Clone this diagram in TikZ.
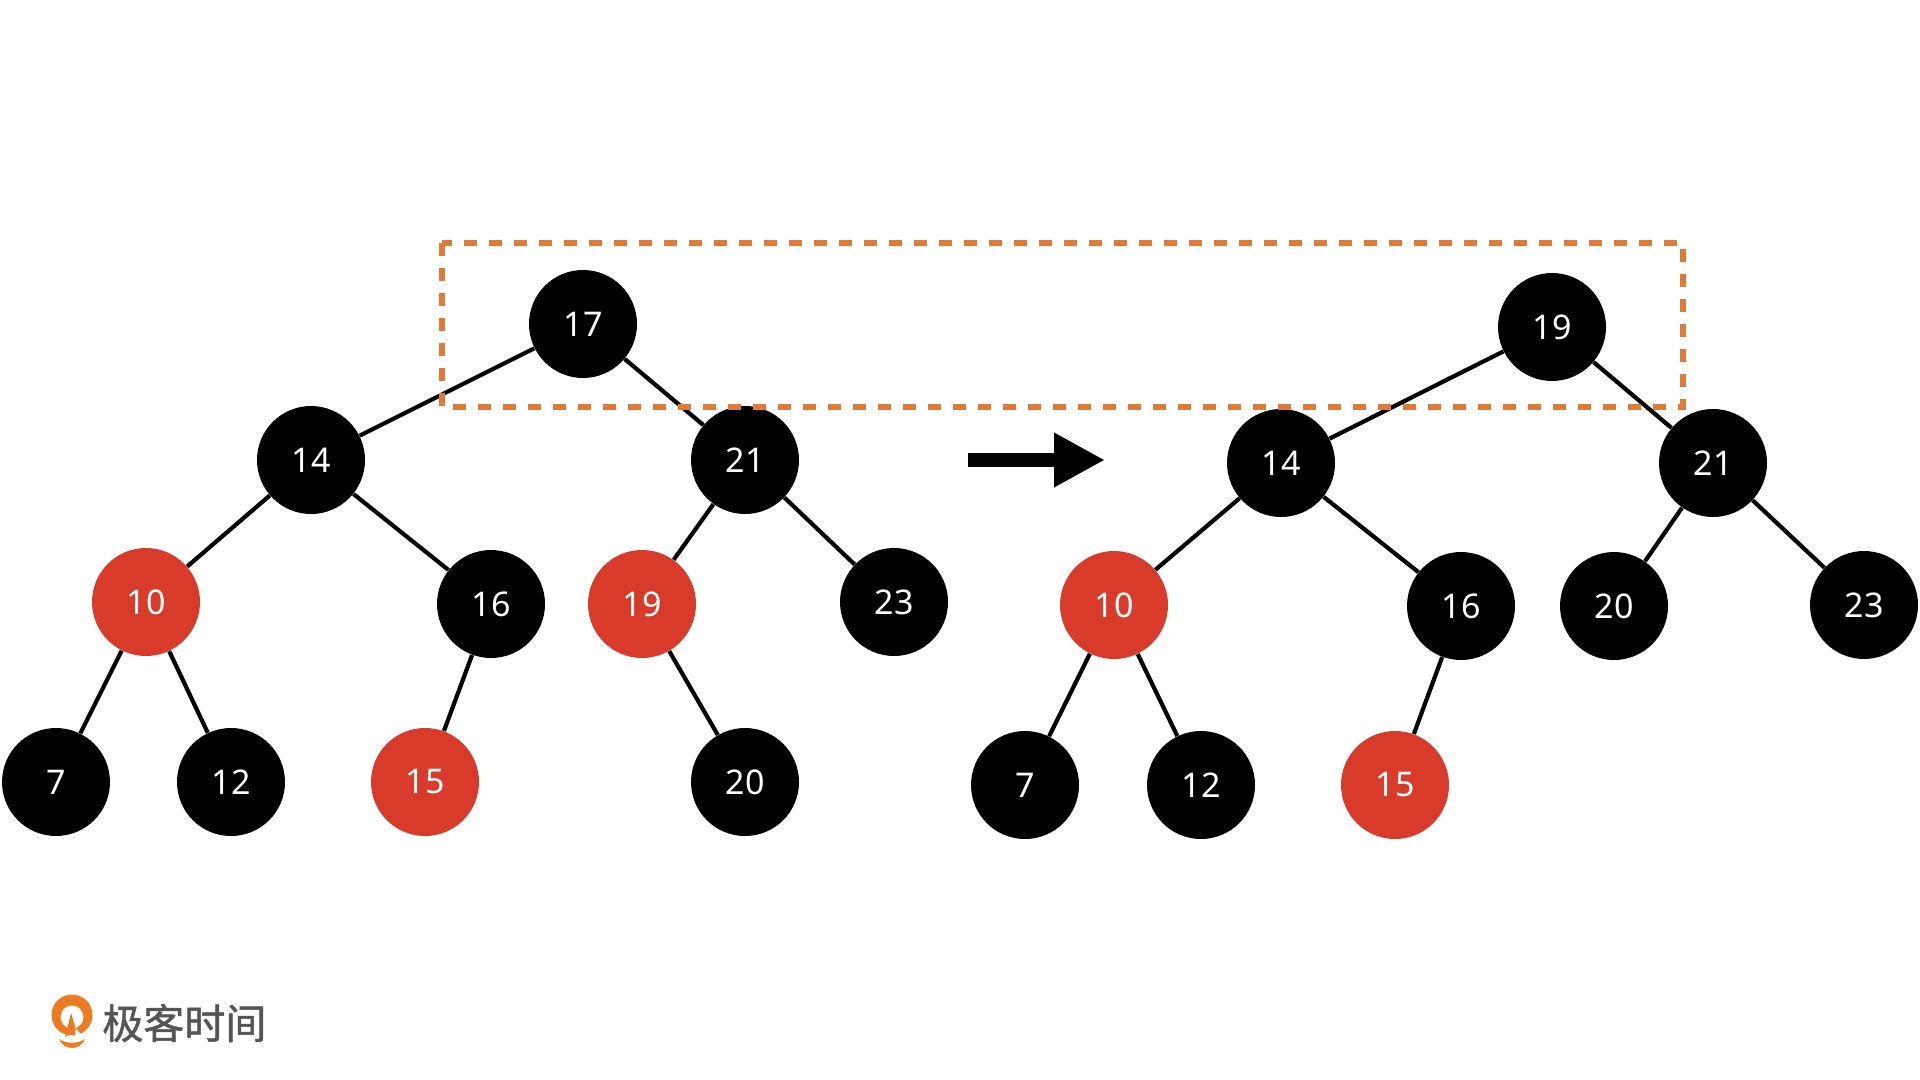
\documentclass[tikz,border=0pt]{standalone}
\usepackage{fontspec}
\setmainfont{Noto Sans}
\newfontfamily\cjk[FakeBold=1.2]{Noto Sans CJK SC}
\usetikzlibrary{arrows.meta}

\definecolor{rbred}{HTML}{D93B2B}
\definecolor{boxorange}{HTML}{E07B37}
\definecolor{logogray}{HTML}{555555}
\definecolor{logoorange}{HTML}{EE7A24}

\tikzset{
    rbnode/.style={circle, minimum size=54pt, inner sep=0pt, text=white,
        font=\fontsize{17}{20}\selectfont},
    blacknode/.style={rbnode, fill=black},
    rednode/.style={rbnode, fill=rbred},
    link/.style={line width=2.1pt, black},
}

\begin{document}
\begin{tikzpicture}[x=0.5pt, y=-0.5pt]
    \useasboundingbox (0,0) rectangle (1920,1080);

    % tree before the rotation
    \node[blacknode] (l17) at (583,324) {17};
    \node[blacknode] (l14) at (311,460) {14};
    \node[blacknode] (l21) at (745,460) {21};
    \node[rednode]   (l10) at (146,602) {10};
    \node[blacknode] (l16) at (491,604) {16};
    \node[rednode]   (l19) at (642,604) {19};
    \node[blacknode] (l23) at (894,602) {23};
    \node[blacknode] (l7)  at (56,782)  {7};
    \node[blacknode] (l12) at (231,782) {12};
    \node[rednode]   (l15) at (425,782) {15};
    \node[blacknode] (l20) at (745,782) {20};

    \draw[link] (l17) -- (l14);
    \draw[link] (l17) -- (l21);
    \draw[link] (l14) -- (l10);
    \draw[link] (l14) -- (l16);
    \draw[link] (l10) -- (l7);
    \draw[link] (l10) -- (l12);
    \draw[link] (l16) -- (l15);
    \draw[link] (l21) -- (l19);
    \draw[link] (l21) -- (l23);
    \draw[link] (l19) -- (l20);

    % tree after the rotation
    \node[blacknode] (r19) at (1552,327) {19};
    \node[blacknode] (r14) at (1281,463) {14};
    \node[blacknode] (r21) at (1713,463) {21};
    \node[rednode]   (r10) at (1114,605) {10};
    \node[blacknode] (r16) at (1461,606) {16};
    \node[blacknode] (r20) at (1614,606) {20};
    \node[blacknode] (r23) at (1864,605) {23};
    \node[blacknode] (r7)  at (1025,785) {7};
    \node[blacknode] (r12) at (1201,785) {12};
    \node[rednode]   (r15) at (1395,785) {15};

    \draw[link] (r19) -- (r14);
    \draw[link] (r19) -- (r21);
    \draw[link] (r14) -- (r10);
    \draw[link] (r14) -- (r16);
    \draw[link] (r10) -- (r7);
    \draw[link] (r10) -- (r12);
    \draw[link] (r16) -- (r15);
    \draw[link] (r21) -- (r20);
    \draw[link] (r21) -- (r23);

    % arrow between the trees
    \coordinate (arrowstart) at (968,460);
    \coordinate (arrowend) at (1105,460);
    \draw[line width=7pt, -{Triangle[length=25.5pt, width=25.5pt]}] (arrowstart) -- (arrowend);

    % dashed box
    \draw[boxorange, line width=3.2pt, dash pattern=on 6.5pt off 6pt]
        (442,243) rectangle (1683,407);

    % logo
    \fill[logoorange] (72,1015) circle (20.5);
    \fill[white] (72,1017) circle (11.5);
    \fill[white] (74,1026) -- (84,1038) -- (76,1038) -- cycle;
    \fill[logoorange] (65,1037) -- (71,1013) -- (76,1030) -- cycle;
    \fill[logoorange] (59,1039) .. controls (66,1044) and (78,1044) .. (85,1039)
        .. controls (80,1051) and (64,1051) .. (59,1039);
    \node[anchor=west, inner sep=0pt, text=logogray,
        font=\cjk\fontsize{20.5}{22}\selectfont] (logo) at (102,1023) {极客时间};
\end{tikzpicture}
\end{document}
